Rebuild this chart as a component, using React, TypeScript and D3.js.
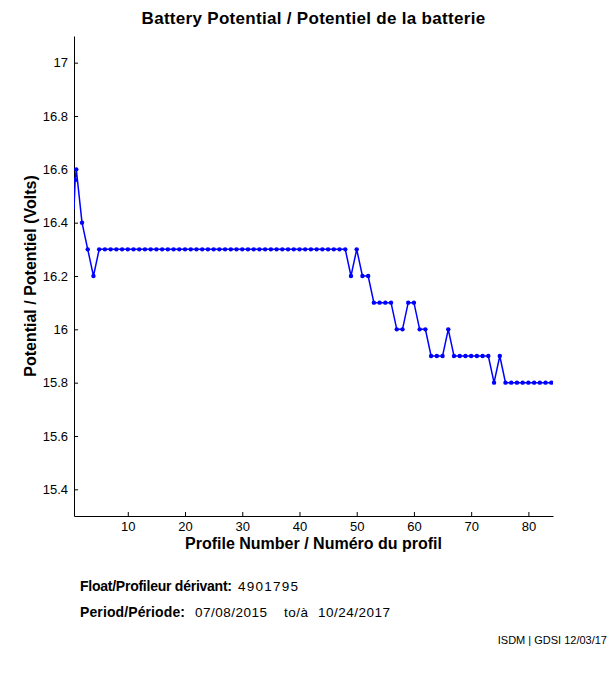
import React, { useEffect, useRef } from 'react';
import * as d3 from 'd3';

// profile numbers and battery voltage
const profiles = [
  0.6, 0.8, 1, 2, 3, 4, 5, 6, 7, 8, 9, 10, 11, 12, 13, 14, 15, 16, 17, 18, 19, 20,
  21, 22, 23, 24, 25, 26, 27, 28, 29, 30, 31, 32, 33, 34, 35, 36, 37, 38, 39, 40,
  41, 42, 43, 44, 45, 46, 47, 48, 49, 50, 51, 52, 53, 54, 55, 56, 57, 58, 59, 60,
  61, 62, 63, 64, 65, 66, 67, 68, 69, 70, 71, 72, 73, 74, 75, 76, 77, 78, 79, 80,
  81, 82, 83, 84,
];
const volts = [
  16.45, 16.56, 16.6, 16.4, 16.3, 16.2, 16.3, 16.3, 16.3, 16.3, 16.3, 16.3, 16.3, 16.3, 16.3, 16.3, 16.3, 16.3, 16.3, 16.3, 16.3, 16.3,
  16.3, 16.3, 16.3, 16.3, 16.3, 16.3, 16.3, 16.3, 16.3, 16.3, 16.3, 16.3, 16.3, 16.3, 16.3, 16.3, 16.3, 16.3, 16.3, 16.3,
  16.3, 16.3, 16.3, 16.3, 16.3, 16.3, 16.3, 16.3, 16.2, 16.3, 16.2, 16.2, 16.1, 16.1, 16.1, 16.1, 16.0, 16.0, 16.1, 16.1,
  16.0, 16.0, 15.9, 15.9, 15.9, 16.0, 15.9, 15.9, 15.9, 15.9, 15.9, 15.9, 15.9, 15.8, 15.9, 15.8, 15.8, 15.8, 15.8, 15.8,
  15.8, 15.8, 15.8, 15.8,
];
const xTicks = [10, 20, 30, 40, 50, 60, 70, 80];
const yTicks = [15.4, 15.6, 15.8, 16, 16.2, 16.4, 16.6, 16.8, 17];

const title = 'Battery Potential / Potentiel de la batterie';
const xLabel = 'Profile Number / Numéro du profil';
const yLabel = 'Potential / Potentiel (Volts)';

const font = 'Liberation Sans, Arial, Helvetica, sans-serif';

const Chart: React.FC = () => {
  const ref = useRef<SVGSVGElement>(null);
  const W = 611;
  const H = 675;
  const m = { left: 74, right: 553, top: 36, bottom: 516 };

  useEffect(() => {
    if (!ref.current) return;
    const root = d3.select(ref.current);
    root.selectAll('*').remove();

    const x = d3.scaleLinear().domain([0.6, 84.3]).range([m.left, m.right]);
    const y = d3.scaleLinear().domain([15.3, 17.1]).range([m.bottom, m.top]);

    root.append('rect').attr('width', W).attr('height', H).attr('fill', '#fff');

    root
      .append('defs')
      .append('clipPath')
      .attr('id', 'plot-clip')
      .append('rect')
      .attr('x', m.left)
      .attr('y', m.top)
      .attr('width', m.right - m.left)
      .attr('height', m.bottom - m.top);

    // axes, ticks pointing inward
    const xAxis = root
      .append('g')
      .attr('transform', `translate(0,${m.bottom})`)
      .call(
        d3
          .axisBottom(x)
          .tickValues(xTicks)
          .tickSizeInner(-4)
          .tickSizeOuter(0)
          .tickPadding(6)
          .tickFormat(d3.format('d'))
      );
    const yAxis = root
      .append('g')
      .attr('transform', `translate(${m.left},0)`)
      .call(
        d3
          .axisLeft(y)
          .tickValues(yTicks)
          .tickSizeInner(-4)
          .tickSizeOuter(0)
          .tickPadding(6)
          .tickFormat((d) => String(+(+d).toFixed(1)))
      );
    [xAxis, yAxis].forEach((g) => {
      g.select('.domain').attr('stroke', '#000').attr('stroke-width', 1);
      g.selectAll('.tick line').attr('stroke', '#000');
      g.selectAll('.tick text')
        .attr('fill', '#000')
        .style('font-family', font)
        .style('font-size', '13px');
    });

    const pts = profiles.map((p, i) => ({ p, v: volts[i] }));
    const line = d3
      .line<{ p: number; v: number }>()
      .x((d) => x(d.p))
      .y((d) => y(d.v));

    const plot = root.append('g').attr('clip-path', 'url(#plot-clip)');
    plot
      .append('path')
      .datum(pts)
      .attr('fill', 'none')
      .attr('stroke', '#0000ff')
      .attr('stroke-width', 1.5)
      .attr('d', line);
    plot
      .selectAll('.dot')
      .data(pts.slice(1))
      .enter()
      .append('circle')
      .attr('class', 'dot')
      .attr('cx', (d) => x(d.p))
      .attr('cy', (d) => y(d.v))
      .attr('r', 2.2)
      .attr('fill', '#0000ff');

    const cx = (m.left + m.right) / 2;
    root
      .append('text')
      .attr('x', cx)
      .attr('y', 24)
      .attr('text-anchor', 'middle')
      .style('font-family', font)
      .style('font-size', '17px')
      .style('font-weight', 'bold')
      .style('letter-spacing', '0.3px')
      .text(title);

    root
      .append('text')
      .attr('x', cx)
      .attr('y', 549)
      .attr('text-anchor', 'middle')
      .style('font-family', font)
      .style('font-size', '16px')
      .style('font-weight', 'bold')
      .text(xLabel);

    root
      .append('text')
      .attr('transform', `translate(36,${(m.top + m.bottom) / 2}) rotate(-90)`)
      .attr('text-anchor', 'middle')
      .style('font-family', font)
      .style('font-size', '16px')
      .style('font-weight', 'bold')
      .text(yLabel);

    // float / period block under the plot
    const info = root
      .append('g')
      .style('font-family', font)
      .attr('fill', '#000');
    const put = (t: string, px: number, py: number, len: number, isBold: boolean) =>
      info
        .append('text')
        .attr('x', px)
        .attr('y', py)
        .attr('textLength', len)
        .attr('lengthAdjust', 'spacing')
        .style('font-size', isBold ? '14px' : '13.5px')
        .style('font-weight', isBold ? 'bold' : 'normal')
        .text(t);
    put('Float/Profileur dérivant:', 80, 591, 152, true);
    put('4901795', 238, 591, 60, false);
    put('Period/Période:', 80, 617, 105, true);
    put('07/08/2015', 195, 617, 72, false);
    put('to/à', 284, 617, 24, false);
    put('10/24/2017', 318, 617, 72, false);

    root
      .append('text')
      .attr('x', 607)
      .attr('y', 644)
      .attr('text-anchor', 'end')
      .style('font-family', font)
      .style('font-size', '11px')
      .text('ISDM | GDSI 12/03/17');
  }, []);

  return (
    <svg
      ref={ref}
      width={W}
      height={H}
      style={{ position: 'absolute', left: 0, top: 0 }}
    />
  );
};

export default function App() {
  return <Chart />;
}
